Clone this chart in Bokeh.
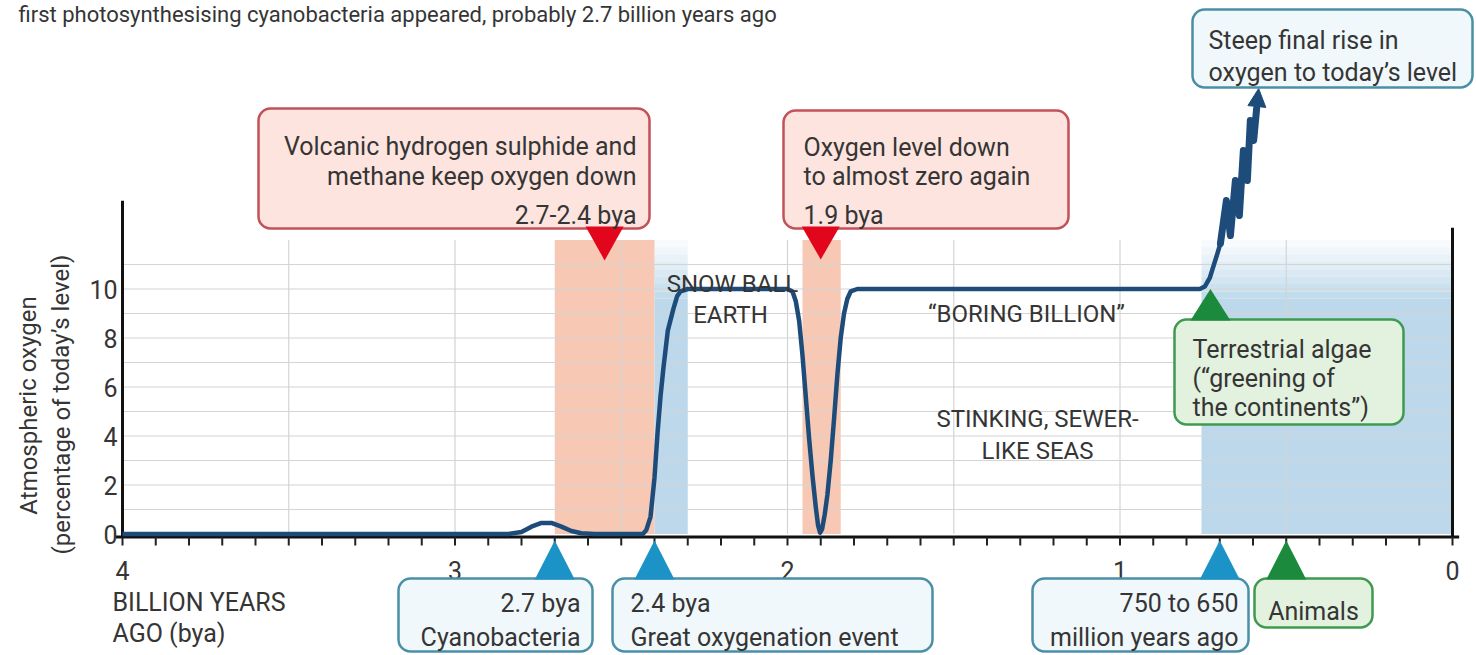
from bokeh.plotting import figure
from bokeh.models import (Range1d, BoxAnnotation, PolyAnnotation, Label, Arrow, NormalHead)
from bokeh.core.properties import value
from bokeh.embed import file_html
from bokeh.resources import INLINE

# ------------------------------------------------------------------ data
years_bya = [4.00, 2.84, 2.80, 2.77, 2.74, 2.71, 2.68, 2.65, 2.62, 2.58,
             2.435, 2.425, 2.412, 2.40, 2.391, 2.382, 2.373, 2.36, 2.343, 2.332, 2.322, 2.30,
             2.00, 1.985, 1.975, 1.965, 1.955, 1.945, 1.935, 1.925, 1.915, 1.908, 1.902,
             1.896, 1.888, 1.88, 1.87, 1.86, 1.85, 1.84, 1.83, 1.82, 1.81, 1.79,
             0.76, 0.745, 0.73, 0.722, 0.707, 0.698, 0.680, 0.668, 0.653, 0.641,
             0.629, 0.617, 0.608, 0.598, 0.589, 0.583]
oxygen_pct = [0, 0, 0.08, 0.3, 0.45, 0.45, 0.3, 0.12, 0.03, 0,
              0, 0.15, 0.7, 2.3, 4.1, 5.6, 6.8, 8.3, 9.2, 9.7, 9.9, 10,
              10, 9.9, 9.5, 8.7, 7.3, 5.6, 3.9, 2.4, 1.1, 0.35, 0.05,
              0.2, 0.8, 1.6, 3.0, 4.7, 6.5, 8.0, 9.0, 9.6, 9.9, 10,
              10, 10.1, 10.45, 10.8, 11.45, 11.86, 13.61, 12.18, 14.43, 13.0,
              15.65, 14.43, 16.88, 16.06, 17.37, 18.18]
jagged_start = 49   # index where the irregular final rise begins

x_tick_values = [4, 3, 2, 1, 0]
x_tick_labels = ["4", "3", "2", "1", "0"]
x_minor_values = [4.0, 3.9, 3.8, 3.7, 3.6, 3.5, 3.4, 3.3, 3.2, 3.1, 3.0,
                  2.9, 2.8, 2.7, 2.6, 2.5, 2.4, 2.3, 2.2, 2.1, 2.0,
                  1.9, 1.8, 1.7, 1.6, 1.5, 1.4, 1.3, 1.2, 1.1, 1.0,
                  0.9, 0.8, 0.7, 0.6, 0.5, 0.4, 0.3, 0.2, 0.1, 0.0]
y_tick_values = [0, 2, 4, 6, 8, 10]
y_tick_labels = ["0", "2", "4", "6", "8", "10"]
grid_h_values = [1, 2, 3, 4, 5, 6, 7, 8, 9, 10, 11]
grid_v_values = [3.5, 3.0, 2.5, 2.0, 1.5, 1.0, 0.5]
grid_top = 12
y_axis_top = 13.6
right_axis_top = 12.5

low_oxygen_left = [2.70, 1.955]     # salmon bands
low_oxygen_right = [2.40, 1.84]
oxygen_rise_left = [2.40, 0.755]    # blue bands
oxygen_rise_right = [2.30, 0.0]
band_top = 12

low_o2_mid_bya = 2.55
dip_bya = 1.9
algae_bya, algae_pct = 0.728, 10
cyanobacteria_bya = 2.7
goe_bya = 2.4
late_rise_bya = 0.7
animals_bya = 0.5

# ------------------------------------------------------------------ layout
W, H = 1476, 655
PX_X = 332.5   # pixels per billion years
PX_Y = 24.5    # pixels per % unit
X0, Y0 = 122, 533.5   # pixel position of (4 bya, 0 %)


def dx(px):
    return 4 - (px - X0) / PX_X


def dy(py):
    return (Y0 - py) / PX_Y


FONT = "Roboto"
TXT = "#353535"
NAVY = "#1d4c7b"
AXIS = "#111111"
AXIS_Y = -0.12

p = figure(width=W, height=H, x_range=Range1d(dx(0), dx(W)), y_range=Range1d(dy(H), dy(0)),
           output_backend="svg", toolbar_location=None,
           x_axis_type=None, y_axis_type=None,
           min_border_left=0, min_border_right=0, min_border_top=0, min_border_bottom=0)
p.outline_line_color = None
p.background_fill_color = "white"
p.border_fill_color = "white"

# bands
p.quad(left=low_oxygen_left, right=low_oxygen_right, bottom=0, top=band_top,
       fill_color="#f7c8b3", line_color=None)
p.quad(left=oxygen_rise_left, right=oxygen_rise_right, bottom=0, top=9.6,
       fill_color="#bcd8ea", line_color=None)
for i in range(8):
    b = 9.6 + i * 0.3
    p.quad(left=oxygen_rise_left, right=oxygen_rise_right, bottom=b, top=b + 0.3,
           fill_color="#bcd8ea", fill_alpha=1 - (i + 1) / 9, line_color=None)

# grid
p.segment(x0=4, x1=0, y0=grid_h_values, y1=grid_h_values, line_color="#d4d4d4", line_width=1.2)
p.segment(x0=grid_v_values, x1=grid_v_values, y0=0, y1=grid_top, line_color="#d4d4d4", line_width=1.2)

# axes (lines, ticks, labels)
p.segment(x0=[4.02], x1=[-0.02], y0=[AXIS_Y], y1=[AXIS_Y], line_color=AXIS, line_width=3)
p.segment(x0=[4], x1=[4], y0=[AXIS_Y], y1=[y_axis_top], line_color=AXIS, line_width=3)
p.segment(x0=[0], x1=[0], y0=[AXIS_Y], y1=[right_axis_top], line_color=AXIS, line_width=3)
p.segment(x0=x_minor_values, x1=x_minor_values, y0=AXIS_Y, y1=dy(545), line_color="#222222", line_width=2)
p.text(x=x_tick_values, y=dy(570), text=x_tick_labels, text_align="center", text_baseline="alphabetic",
       text_font=value(FONT), text_font_size="25px", text_color=TXT)
p.text(x=dx(117), y=y_tick_values, text=y_tick_labels, text_align="right", text_baseline="middle",
       text_font=value(FONT), text_font_size="25px", text_color=TXT)

# curve
p.line(years_bya[:-1], oxygen_pct[:-1], line_color=NAVY, line_width=4.5, line_join="round")
p.line(years_bya[jagged_start:-1], oxygen_pct[jagged_start:-1], line_color=NAVY,
       line_width=7, line_join="round", line_cap="round")
p.add_layout(Arrow(end=NormalHead(size=18, fill_color=NAVY, line_color=NAVY),
                   x_start=years_bya[-2], y_start=oxygen_pct[-2],
                   x_end=years_bya[-1], y_end=oxygen_pct[-1],
                   line_color=NAVY, line_width=4.5))


def box(l, r, t, b, fill, line):
    p.add_layout(BoxAnnotation(left=dx(l), right=dx(r), top=dy(t), bottom=dy(b),
                               fill_color=fill, fill_alpha=1, line_color=line, line_alpha=1,
                               line_width=2.5, border_radius=12))


def tri(x_tip, y_tip, y_base, half_px, color):
    hw = half_px / PX_X
    p.add_layout(PolyAnnotation(xs=[x_tip - hw, x_tip + hw, x_tip], ys=[y_base, y_base, y_tip],
                                fill_color=color, fill_alpha=1, line_color=None))


def txt(px, py, text, align="left", size="25px", angle=0, baseline="alphabetic"):
    p.add_layout(Label(x=dx(px), y=dy(py), text=text, text_align=align, text_baseline=baseline,
                       text_font=FONT, text_font_size=size, text_color=TXT, angle=angle))


RED_FILL, RED_LINE, RED_TRI = "#fde4de", "#c2515a", "#e2061c"
BLUE_FILL, BLUE_LINE, BLUE_TRI = "#f1f8fb", "#4a8fa6", "#1c93c6"
GREEN_FILL, GREEN_LINE, GREEN_TRI = "#e3f1df", "#3f9a50", "#1b8a3c"

# callout boxes
box(258, 649, 108, 228, RED_FILL, RED_LINE)
box(783, 1068, 110, 228, RED_FILL, RED_LINE)
box(1192, 1472, 9, 87, BLUE_FILL, BLUE_LINE)
box(1174, 1403, 319, 424, GREEN_FILL, GREEN_LINE)
box(398, 592, 578, 651, BLUE_FILL, BLUE_LINE)
box(612, 932, 578, 651, BLUE_FILL, BLUE_LINE)
box(1032, 1248, 578, 651, BLUE_FILL, BLUE_LINE)
box(1254, 1372, 578, 627, GREEN_FILL, GREEN_LINE)

# pointers
tri(low_o2_mid_bya, dy(260), dy(226), 19, RED_TRI)
tri(dip_bya, dy(259), dy(226), 19, RED_TRI)
tri(algae_bya, algae_pct, dy(320), 20, GREEN_TRI)
tri(cyanobacteria_bya, dy(540), dy(579), 20, BLUE_TRI)
tri(goe_bya, dy(540), dy(579), 20, BLUE_TRI)
tri(late_rise_bya, dy(540), dy(579), 20, BLUE_TRI)
tri(animals_bya, dy(540), dy(579), 20, GREEN_TRI)

# texts
txt(18, 1, "first photosynthesising cyanobacteria appeared, probably 2.7 billion years ago",
    "left", "22px", 0, "top")
txt(636, 146, "Volcanic hydrogen sulphide and", "right")
txt(636, 176, "methane keep oxygen down", "right")
txt(636, 215, "2.7-2.4 bya", "right")
txt(803, 147, "Oxygen level down")
txt(803, 176, "to almost zero again")
txt(803, 215, "1.9 bya")
txt(1208, 40, "Steep final rise in")
txt(1208, 72, "oxygen to today\u2019s level")
txt(1192, 349, "Terrestrial algae")
txt(1192, 378, "(\u201cgreening of")
txt(1192, 407, "the continents\u201d)")
txt(732, 283, "SNOW BALL", "center", "24px")
txt(730, 314, "EARTH", "center", "24px")
txt(1026, 313, "\u201cBORING BILLION\u201d", "center", "24px")
txt(1037, 418, "STINKING, SEWER-", "center", "24px")
txt(1037, 450, "LIKE SEAS", "center", "24px")
txt(112, 602, "BILLION YEARS")
txt(112, 633, "AGO (bya)")
txt(580, 603, "2.7 bya", "right")
txt(580, 637, "Cyanobacteria", "right")
txt(630, 603, "2.4 bya")
txt(630, 637, "Great oxygenation event")
txt(1238, 603, "750 to 650", "right")
txt(1238, 637, "million years ago", "right")
txt(1313, 611, "Animals", "center")
txt(28, 405, "Atmospheric oxygen", "center", "24px", 1.5708, "middle")
txt(61, 404, "(percentage of today\u2019s level)", "center", "24px", 1.5708, "middle")

open("out.html", "w").write(file_html(p, INLINE))
